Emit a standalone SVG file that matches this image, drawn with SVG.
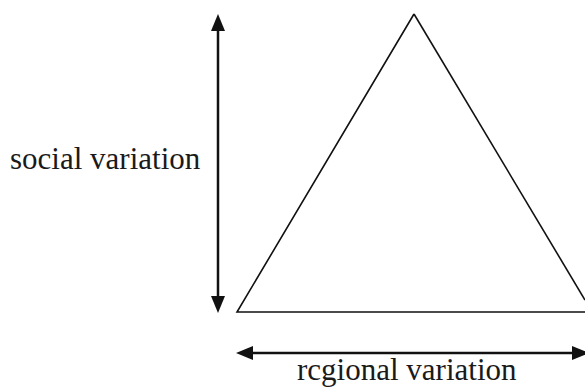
<svg xmlns="http://www.w3.org/2000/svg" width="585" height="388" viewBox="0 0 585 388">
<style>
.lbl{font-family:"Liberation Serif","Times New Roman",serif;font-size:31px;fill:#1a1a1a}
.ax{stroke:#111;stroke-width:2.5;fill:none}
.tri{stroke:#111;stroke-width:1.6;fill:none;stroke-linejoin:miter}
.ah{fill:#111}
</style>
<rect width="585" height="388" fill="#fff"/>
<g id="triangle">
<path class="tri" d="M414,14 L237,312 L585,312"/>
<path class="tri" d="M414,14 L585,300"/>
</g>
<g id="connectors">
<line class="ax" x1="218" y1="26" x2="218" y2="300"/>
<polygon class="ah" points="218,14 211,31 225,31"/>
<polygon class="ah" points="218,313 211,296 225,296"/>
<line class="ax" x1="250" y1="353" x2="585" y2="353"/>
<polygon class="ah" points="236,353 253,346 253,360"/>
<polygon class="ah" points="589,353 572,346 572,360"/>
</g>
<g id="social-label"><text class="lbl" x="10" y="169">social variation</text></g>
<g id="regional-label"><text class="lbl" x="297" y="380">rcgional variation</text></g>
</svg>
